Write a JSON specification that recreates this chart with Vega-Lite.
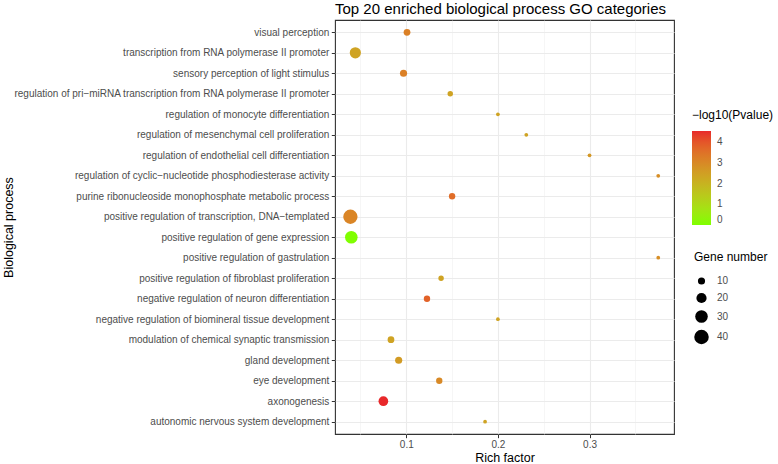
{
  "$schema": "https://vega.github.io/schema/vega-lite/v6.json",
  "autosize": {"type": "none"},
  "padding": {"left": 335, "top": 20, "right": 104, "bottom": 30},
  "width": 339,
  "height": 414,
  "background": "white",
  "title": {
    "text": "Top 20 enriched biological process GO categories",
    "anchor": "start",
    "frame": "group",
    "fontSize": 15,
    "fontWeight": "normal",
    "font": "Liberation Sans",
    "color": "black",
    "baseline": "alphabetic",
    "offset": -9
  },
  "data": {
    "values": [
      {"term": "visual perception", "rich": 0.1008, "count": 9, "logp": 3.2},
      {"term": "transcription from RNA polymerase II promoter", "rich": 0.0444, "count": 24, "logp": 2.4},
      {"term": "sensory perception of light stimulus", "rich": 0.097, "count": 10, "logp": 3.2},
      {"term": "regulation of pri−miRNA transcription from RNA polymerase II promoter", "rich": 0.148, "count": 6, "logp": 2.4},
      {"term": "regulation of monocyte differentiation", "rich": 0.2, "count": 3, "logp": 2.4},
      {"term": "regulation of mesenchymal cell proliferation", "rich": 0.231, "count": 3, "logp": 2.4},
      {"term": "regulation of endothelial cell differentiation", "rich": 0.3, "count": 3, "logp": 2.7},
      {"term": "regulation of cyclic−nucleotide phosphodiesterase activity", "rich": 0.375, "count": 3, "logp": 2.9},
      {"term": "purine ribonucleoside monophosphate metabolic process", "rich": 0.15, "count": 8, "logp": 3.6},
      {"term": "positive regulation of transcription, DNA−templated", "rich": 0.039, "count": 39, "logp": 3.1},
      {"term": "positive regulation of gene expression", "rich": 0.04, "count": 30, "logp": 0.02},
      {"term": "positive regulation of gastrulation", "rich": 0.375, "count": 3, "logp": 2.9},
      {"term": "positive regulation of fibroblast proliferation", "rich": 0.138, "count": 6, "logp": 2.4},
      {"term": "negative regulation of neuron differentiation", "rich": 0.1226, "count": 8, "logp": 3.8},
      {"term": "negative regulation of biomineral tissue development", "rich": 0.2, "count": 3, "logp": 2.4},
      {"term": "modulation of chemical synaptic transmission", "rich": 0.0833, "count": 9, "logp": 2.4},
      {"term": "gland development", "rich": 0.0917, "count": 10, "logp": 2.6},
      {"term": "eye development", "rich": 0.136, "count": 8, "logp": 3.0},
      {"term": "axonogenesis", "rich": 0.075, "count": 18, "logp": 4.55},
      {"term": "autonomic nervous system development", "rich": 0.186, "count": 3, "logp": 2.4}
    ]
  },
  "config": {
    "font": "Liberation Sans",
    "view": {"stroke": "#333333", "strokeWidth": 1.1},
    "axis": {
      "labelFont": "Liberation Sans",
      "titleFont": "Liberation Sans",
      "labelColor": "#4D4D4D",
      "labelFontSize": 10,
      "titleFontSize": 12.5,
      "titleFontWeight": "normal",
      "titleColor": "black",
      "tickColor": "#333333",
      "tickSize": 3.7,
      "tickWidth": 1,
      "domain": false,
      "gridColor": "#EBEBEB",
      "gridWidth": 1.1,
      "maxExtent": 400
    },
    "legend": {
      "titleFont": "Liberation Sans",
      "labelFont": "Liberation Sans",
      "titleFontSize": 12,
      "titleFontWeight": "normal",
      "titleColor": "black",
      "labelFontSize": 10,
      "labelColor": "#4D4D4D"
    }
  },
  "layer": [
    {
      "mark": {"type": "point", "filled": true, "opacity": 0, "size": 1},
      "encoding": {
        "x": {
          "field": "rich",
          "type": "quantitative",
          "scale": {"domain": [0.0222, 0.3922], "nice": false, "zero": false},
          "axis": {
            "orient": "top",
            "values": [0.05, 0.15, 0.25, 0.35],
            "labels": false,
            "ticks": false,
            "domain": false,
            "title": null,
            "grid": true,
            "gridColor": "#F0F0F0",
            "gridWidth": 0.6,
            "minExtent": 0
          }
        },
        "y": {
          "field": "term",
          "type": "nominal",
          "sort": null,
          "scale": {"type": "point", "padding": 0.6},
          "axis": {
            "title": "Biological process",
            "labelPadding": 2.5,
            "titlePadding": -3,
            "grid": true,
            "labelLimit": 400,
            "maxExtent": 400
          }
        }
      }
    },
    {
      "mark": {"type": "point", "filled": true, "opacity": 1, "strokeWidth": 0},
      "encoding": {
        "x": {
          "field": "rich",
          "type": "quantitative",
          "scale": {"domain": [0.0222, 0.3922], "nice": false, "zero": false},
          "axis": {
            "orient": "bottom",
            "values": [0.1, 0.2, 0.3],
            "format": ".1f",
            "title": "Rich factor",
            "labelPadding": 2,
            "titlePadding": 2,
            "grid": true
          }
        },
        "y": {
          "field": "term",
          "type": "nominal",
          "sort": null,
          "scale": {"type": "point", "padding": 0.6},
          "axis": {
            "title": "Biological process",
            "labelPadding": 2.5,
            "titlePadding": -3,
            "grid": true,
            "labelLimit": 400,
            "maxExtent": 400
          }
        },
        "color": {
          "field": "logp",
          "type": "quantitative",
          "title": "−log10(Pvalue)",
          "scale": {"domain": [0, 4.55], "range": ["#7FFF00", "#E8282A"], "interpolate": "lab"},
          "legend": {
            "orient": "none",
            "legendX": 357,
            "legendY": 90,
            "direction": "vertical",
            "values": [0, 1, 2, 3, 4],
            "gradientLength": 94,
            "gradientThickness": 19,
            "gradientStrokeWidth": 0,
            "labelOffset": 6,
            "titlePadding": 9
          }
        },
        "size": {
          "field": "count",
          "type": "quantitative",
          "title": "Gene number",
          "scale": {"domain": [3, 40], "range": [14, 210]},
          "legend": {
            "orient": "none",
            "legendX": 359,
            "legendY": 232,
            "values": [10, 20, 30, 40],
            "symbolFillColor": "black",
            "symbolStrokeColor": "black",
            "symbolStrokeWidth": 0,
            "symbolOpacity": 1,
            "symbolType": "circle",
            "labelOffset": 8,
            "rowPadding": 6.5,
            "titlePadding": 12
          }
        }
      }
    }
  ],
  "resolve": {"axis": {"x": "independent"}}
}
